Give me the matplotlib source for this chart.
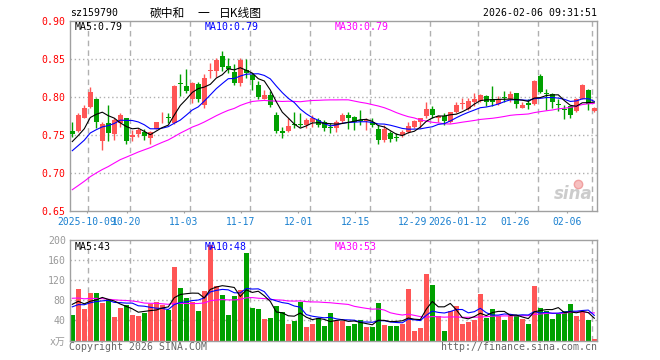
import matplotlib.pyplot as plt
import numpy as np
import pandas as pd

plt.rcParams['font.family'] = ['DejaVu Sans Mono', 'Noto Sans CJK SC']

# 日K数据 (2025-09-26 ~ 2026-02-06, 88个交易日)
open_ = [0.756, 0.756, 0.773, 0.787, 0.798, 0.742, 0.766, 0.751, 0.766, 0.772,
         0.748, 0.751, 0.754, 0.746, 0.758, 0.772, 0.774, 0.766, 0.818, 0.815,
         0.797, 0.817, 0.789, 0.834, 0.834, 0.854, 0.841, 0.833, 0.818, 0.836,
         0.829, 0.816, 0.797, 0.803, 0.777, 0.756, 0.755, 0.764, 0.764, 0.763,
         0.767, 0.770, 0.767, 0.7603, 0.760, 0.769, 0.776, 0.774, 0.7695, 0.769,
         0.767, 0.758, 0.744, 0.753, 0.7473, 0.750, 0.754, 0.761, 0.767, 0.775,
         0.785, 0.772, 0.775, 0.767, 0.781, 0.791, 0.785, 0.794, 0.795, 0.802,
         0.797, 0.791, 0.7995, 0.797, 0.805, 0.786, 0.792, 0.791, 0.828, 0.8048,
         0.804, 0.7903, 0.7838, 0.788, 0.782, 0.797, 0.810, 0.782]
high = [0.767, 0.779, 0.789, 0.813, 0.799, 0.767, 0.789, 0.772, 0.779, 0.773,
        0.757, 0.759, 0.758, 0.756, 0.767, 0.780, 0.779, 0.816, 0.830, 0.837,
        0.820, 0.820, 0.830, 0.845, 0.851, 0.860, 0.851, 0.843, 0.851, 0.850,
        0.832, 0.821, 0.810, 0.808, 0.781, 0.761, 0.772, 0.780, 0.779, 0.772,
        0.776, 0.772, 0.770, 0.766, 0.770, 0.779, 0.781, 0.775, 0.783, 0.772,
        0.772, 0.764, 0.764, 0.756, 0.753, 0.757, 0.767, 0.770, 0.773, 0.794,
        0.788, 0.777, 0.779, 0.781, 0.793, 0.799, 0.799, 0.805, 0.804, 0.803,
        0.815, 0.802, 0.808, 0.808, 0.806, 0.794, 0.797, 0.822, 0.831, 0.811,
        0.805, 0.797, 0.789, 0.788, 0.799, 0.817, 0.811, 0.787]
low = [0.748, 0.754, 0.772, 0.786, 0.760, 0.730, 0.742, 0.744, 0.761, 0.739,
       0.742, 0.748, 0.744, 0.738, 0.758, 0.766, 0.766, 0.765, 0.802, 0.805,
       0.792, 0.794, 0.786, 0.825, 0.827, 0.834, 0.832, 0.816, 0.814, 0.825,
       0.810, 0.797, 0.797, 0.787, 0.753, 0.746, 0.754, 0.760, 0.761, 0.760,
       0.761, 0.761, 0.756, 0.753, 0.754, 0.766, 0.758, 0.757, 0.764, 0.757,
       0.761, 0.738, 0.741, 0.741, 0.743, 0.748, 0.753, 0.760, 0.760, 0.773,
       0.773, 0.767, 0.764, 0.766, 0.779, 0.784, 0.783, 0.788, 0.794, 0.788,
       0.788, 0.790, 0.793, 0.794, 0.786, 0.786, 0.784, 0.790, 0.806, 0.783,
       0.786, 0.782, 0.771, 0.772, 0.781, 0.797, 0.783, 0.780]
close = [0.751, 0.776, 0.786, 0.807, 0.767, 0.765, 0.753, 0.770, 0.776, 0.743,
         0.750, 0.757, 0.749, 0.754, 0.767, 0.773, 0.773, 0.815, 0.817, 0.808,
         0.818, 0.798, 0.825, 0.835, 0.849, 0.840, 0.837, 0.818, 0.849, 0.832,
         0.822, 0.800, 0.803, 0.790, 0.755, 0.753, 0.762, 0.763, 0.763, 0.770,
         0.772, 0.764, 0.760, 0.7597, 0.767, 0.776, 0.772, 0.767, 0.769, 0.770,
         0.763, 0.744, 0.758, 0.745, 0.7467, 0.754, 0.762, 0.768, 0.772, 0.785,
         0.776, 0.775, 0.768, 0.780, 0.789, 0.792, 0.795, 0.798, 0.803, 0.794,
         0.793, 0.797, 0.799, 0.804, 0.791, 0.789, 0.789, 0.821, 0.807, 0.8044,
         0.793, 0.7897, 0.7832, 0.776, 0.798, 0.816, 0.791, 0.786]
volume = [51, 102, 63, 94.5, 94.5, 74.6, 82.6, 46.8, 64.7, 70.6,
          50.7, 48.8, 54.7, 72.6, 76.6, 70.6, 60, 146, 104.5, 84.6,
          76.6, 58.7, 98.5, 190, 107.8, 90.5, 50.7, 88.5, 100.5, 174,
          64.7, 62.7, 42.8, 44.8, 68.7, 56.7, 32.8, 38.8, 76.6, 26.9,
          32.8, 44.8, 28.9, 54.7, 38.8, 38.8, 28.9, 32.8, 40.8, 26.9,
          26.9, 74.6, 30.8, 28.9, 28.9, 32.8, 102.5, 18.9, 24.9, 132,
          110.5, 48.8, 18.9, 58.7, 68.7, 32.8, 36.8, 40.8, 92.5, 44.8,
          62.7, 48.8, 40.8, 52.7, 48.8, 42.8, 32.8, 108.5, 64.7, 58.7,
          42.8, 52.7, 58.7, 72.6, 48.8, 56.7, 40.8, 3]

# 窗口之前的29天（按均线起点估计），只用来算均线
pre_close = [0.612, 0.618, 0.625, 0.621, 0.630, 0.636, 0.632, 0.641, 0.645, 0.650,
             0.655, 0.662, 0.668, 0.660, 0.671, 0.678, 0.684, 0.680, 0.690, 0.697,
             0.708, 0.716, 0.712, 0.724, 0.728, 0.736, 0.742, 0.733, 0.746]
pre_volume = [85, 110, 72, 95, 88, 120, 78, 92, 84, 82,
              96, 130, 88, 75, 102, 90, 84, 110, 92, 77,
              58, 66, 55, 70, 61, 72, 88, 69, 80]

date_idx = [3, 10, 20, 30, 40, 50, 60, 68, 78, 87]
date_labels = ['2025-10-09', '10-20', '11-03', '11-17', '12-01', '12-15',
               '12-29', '2026-01-12', '01-26', '02-06']
price_ticks = [0.65, 0.70, 0.75, 0.80, 0.85, 0.90]
vol_ticks = [0, 40, 80, 120, 160, 200]
vol_tick_labels = ['x万', '40', '80', '120', '160', '200']

RED = '#ff5555'
GREEN = '#00a000'
FRAME = '#a0a0a0'
GRID = '#b0b0b0'
DATE_BLUE = '#1a80d0'

n = len(close)
x = np.arange(n)
o = np.array(open_)
c = np.array(close)
cols = [RED if c[i] >= o[i] else GREEN for i in range(n)]

ma_c = pd.Series(pre_close + close)
ma_v = pd.Series(pre_volume + volume)
pma = {k: ma_c.rolling(k).mean().values[-n:] for k in (5, 10, 30)}
vma = {k: ma_v.rolling(k).mean().values[-n:] for k in (5, 10, 30)}
ma_cols = {5: 'black', 10: '#0000ff', 30: '#ff00ff'}

W, H = 660, 360


def box(l, t, r, b):
    return [l / W, 1 - b / H, (r - l) / W, (b - t) / H]


fig = plt.figure(figsize=(6.6, 3.6), dpi=100)
ax = fig.add_axes(box(70, 21, 597, 211.3))
axv = fig.add_axes(box(70, 240, 597, 340.5))

for a in (ax, axv):
    a.set_xlim(-0.38, 87.45)
    for s in a.spines.values():
        s.set_color(FRAME)
        s.set_linewidth(1)
    for i in date_idx:
        a.axvline(i - 0.3, color=GRID, lw=1, ls=(0, (4, 3)), zorder=0)

# 主图 K线
ax.set_ylim(0.65, 0.90)
for p in price_ticks[1:-1]:
    ax.axhline(p, color=GRID, lw=1, ls=(0, (1, 2)), zorder=0)
ax.vlines(x, low, high, colors=cols, lw=1, zorder=2)
body_h = np.maximum(np.abs(c - o), 0.0012)
ax.bar(x, body_h, bottom=np.minimum(o, c), width=0.8, color=cols, lw=0, zorder=3)
for k in (30, 10, 5):
    ax.plot(x, pma[k], color=ma_cols[k], lw=0.8, zorder=4)

ax.set_yticks(price_ticks)
ax.set_yticklabels([f'{p:.2f}' for p in price_ticks], color='red', fontsize=7.1)
tick_pos = [(69.6 + 5.714 * i - 72.3) / 6 for i in date_idx]
ax.set_xticks(tick_pos)
ax.set_xticklabels(date_labels, color=DATE_BLUE, fontsize=7)
ax.tick_params(axis='y', length=0, pad=3)
ax.tick_params(axis='x', length=1.5, color=FRAME, pad=2.5)

ax.text(5 / 527, 0.971, 'MA5:0.79', transform=ax.transAxes, fontsize=7.1,
        color='black', va='center')
ax.text(135 / 527, 0.971, 'MA10:0.79', transform=ax.transAxes, fontsize=7.1,
        color='#0000ff', va='center')
ax.text(265 / 527, 0.971, 'MA30:0.79', transform=ax.transAxes, fontsize=7.1,
        color='#ff00ff', va='center')

# 新浪水印
ax.text(0.955, 0.09, 'sina', transform=ax.transAxes, fontsize=12,
        fontstyle='italic', fontweight='bold', color='#cccccc',
        family='DejaVu Sans', ha='center', va='center', zorder=1)
ax.plot([0.963], [0.145], transform=ax.transAxes, marker='o', ms=6,
        mfc='#f7c0c0', mec='#f0a0a0', zorder=1)

# 成交量
axv.set_ylim(0, 200)
for v in vol_ticks[1:-1]:
    axv.axhline(v, color=GRID, lw=1, ls=(0, (1, 2)), zorder=0)
axv.bar(x, volume, width=0.8, color=cols, lw=0, zorder=2)
for k in (30, 10, 5):
    axv.plot(x, vma[k], color=ma_cols[k], lw=0.8, zorder=3)
axv.set_yticks(vol_ticks)
axv.set_yticklabels(vol_tick_labels, color='#999999', fontsize=7.1)
axv.set_xticks([])
axv.tick_params(axis='y', length=0, pad=3)

axv.text(5 / 527, 0.933, 'MA5:43', transform=axv.transAxes, fontsize=7.1,
         color='black', va='center')
axv.text(135 / 527, 0.933, 'MA10:48', transform=axv.transAxes, fontsize=7.1,
         color='#0000ff', va='center')
axv.text(265 / 527, 0.933, 'MA30:53', transform=axv.transAxes, fontsize=7.1,
         color='#ff00ff', va='center')

# 标题和版权
fig.text(70 / W, 1 - 13 / H, 'sz159790', fontsize=7.1, va='center')
fig.text(150 / W, 1 - 13 / H, '碳中和', fontsize=8.5, va='center',
         family=['Noto Sans CJK SC'])
fig.text(203.5 / W, 1 - 13 / H, '一', fontsize=8.5, va='center', ha='center',
         family=['Noto Sans CJK SC'])
fig.text(219 / W, 1 - 13 / H, '日K线图', fontsize=8.5, va='center',
         family=['Noto Sans CJK SC'])
fig.text(597 / W, 1 - 13 / H, '2026-02-06 09:31:51', fontsize=7.1,
         va='center', ha='right')
fig.text(69 / W, 1 - 347 / H, 'Copyright 2026 SINA.COM', fontsize=7.1,
         va='center', color='#666666')
fig.text(597 / W, 1 - 347 / H, 'http://finance.sina.com.cn', fontsize=7.1,
         va='center', ha='right', color='#666666')

fig.savefig('out.png', dpi=100)
